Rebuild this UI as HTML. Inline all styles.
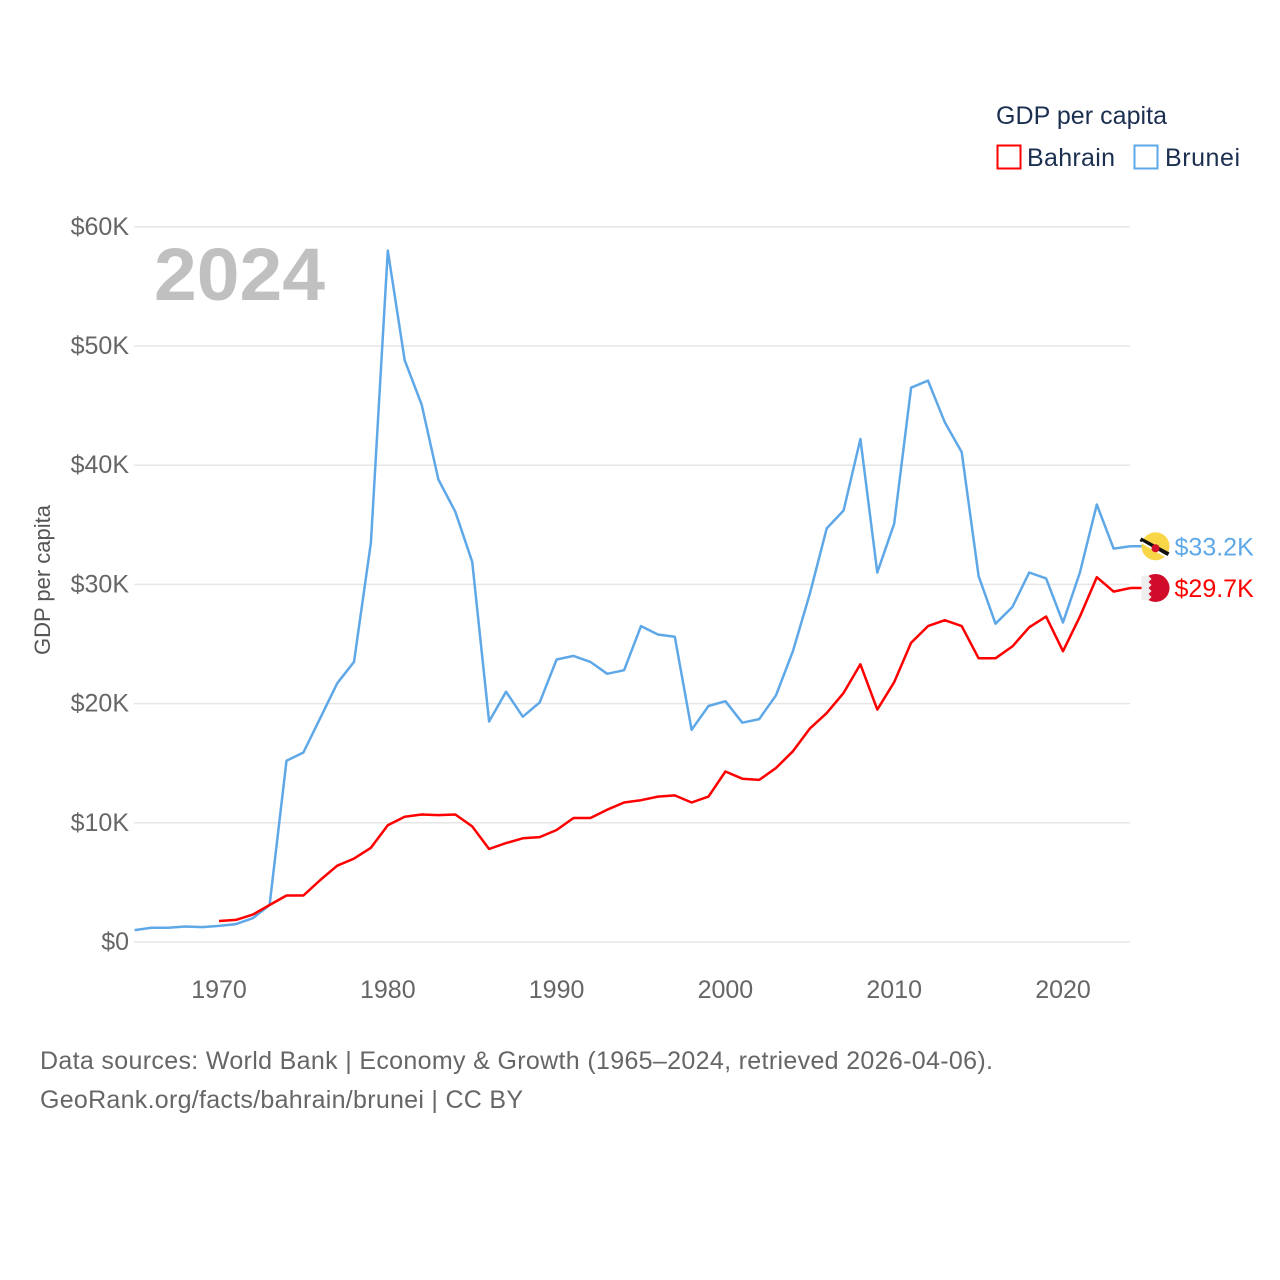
<!DOCTYPE html>
<html><head><meta charset="utf-8"><style>
html,body{margin:0;padding:0;background:#fff;}
svg{display:block;font-family:"Liberation Sans",sans-serif;}
</style></head><body>
<svg id="chart" width="1280" height="1280">
  <g id="grid"></g>
  <text x="154" y="300" font-size="74" font-weight="bold" fill="#c0c0c0" textLength="171" lengthAdjust="spacingAndGlyphs">2024</text>
  <g id="yticks"></g>
  <g id="xticks"></g>
  <text transform="translate(50,580) rotate(-90)" text-anchor="middle" font-size="22" fill="#555">GDP per capita</text>
  <g id="lines"></g>
  <g>
    <text x="996" y="124" font-size="25" fill="#1b2f50" textLength="171">GDP per capita</text>
    <g>
      <rect x="997.5" y="145.5" width="23" height="23" fill="none" stroke="#ff0000" stroke-width="2"/>
      <text x="1027" y="166" font-size="25" fill="#1b2f50" textLength="88">Bahrain</text>
    </g>
    <g>
      <rect x="1134.5" y="145.5" width="23" height="23" fill="none" stroke="#5fa8e8" stroke-width="2"/>
      <text x="1165" y="166" font-size="25" fill="#1b2f50" textLength="75">Brunei</text>
    </g>
  </g>
  <text x="40" y="1069" font-size="25" fill="#666" textLength="953">Data sources: World Bank | Economy &amp; Growth (1965–2024, retrieved 2026-04-06).</text>
  <text x="40" y="1108" font-size="25" fill="#666" textLength="483">GeoRank.org/facts/bahrain/brunei | CC BY</text>
</svg>
<script>
const years = [];
for (let y = 1965; y <= 2024; y++) years.push(y);
const bruneiValues = [1.0,1.2,1.2,1.3,1.25,1.35,1.5,2.0,3.1,15.2,15.9,18.8,21.7,23.5,33.5,58.0,48.8,45.1,38.8,36.1,31.9,18.5,21.0,18.9,20.1,23.7,24.0,23.5,22.5,22.8,26.5,25.8,25.6,17.8,19.8,20.2,18.4,18.7,20.7,24.4,29.2,34.7,36.2,42.2,31.0,35.1,46.5,47.1,43.6,41.1,30.7,26.7,28.1,31.0,30.5,26.8,31.0,36.7,33.0,33.2];
const bahrainYears = [];
for (let y = 1970; y <= 2024; y++) bahrainYears.push(y);
const bahrainValues = [1.76,1.85,2.3,3.1,3.9,3.9,5.2,6.4,7.0,7.9,9.8,10.5,10.7,10.65,10.7,9.7,7.8,8.3,8.7,8.8,9.4,10.4,10.4,11.1,11.7,11.9,12.2,12.3,11.7,12.2,14.3,13.7,13.6,14.6,16.0,17.9,19.2,20.9,23.3,19.5,21.8,25.1,26.5,27.0,26.5,23.8,23.8,24.8,26.4,27.3,24.4,27.3,30.6,29.4,29.7];
const yTickValues = [0,10,20,30,40,50,60];
const yTickLabels = ["$0","$10K","$20K","$30K","$40K","$50K","$60K"];
const xTickValues = [1970,1980,1990,2000,2010,2020];

const NS = "http://www.w3.org/2000/svg";
const xs = y => 219 + (y - 1970) * 16.88;
const ys = v => 942 - v * 11.92;
function mk(tag, attrs, parent) {
  const e = document.createElementNS(NS, tag);
  for (const k in attrs) e.setAttribute(k, attrs[k]);
  parent.appendChild(e);
  return e;
}
const grid = document.getElementById('grid');
const yt = document.getElementById('yticks');
yTickValues.forEach((v, i) => {
  const l = mk('line', {x1:134, x2:1130, y1:ys(v), y2:ys(v), stroke:'#e6e6e6', 'stroke-width':1.5}, grid);
  
  
  const t = mk('text', {x:129, y:ys(v)+8, 'text-anchor':'end', 'font-size':25, fill:'#666'}, yt);
  t.textContent = yTickLabels[i];
  
  
});
const xt = document.getElementById('xticks');
xTickValues.forEach(v => {
  const t = mk('text', {x:xs(v), y:998, 'text-anchor':'middle', 'font-size':25, fill:'#666'}, xt);
  t.textContent = v;
  
  
});
const lines = document.getElementById('lines');
function drawLine(xv, yv, color, name) {
  const pts = xv.map((x, i) => xs(x).toFixed(1) + ',' + ys(yv[i]).toFixed(1)).join(' ');
  const p = mk('polyline', {points:pts, fill:'none', stroke:color, 'stroke-width':2.5, 'stroke-linejoin':'round'}, lines);
  
  
}
drawLine(years, bruneiValues, '#5fa8e8', 'brunei-line');
drawLine(bahrainYears, bahrainValues, '#ff0000', 'bahrain-line');

function endLabel(val, color, name, flag) {
  const x = xs(2024), y = ys(val);
  const g = mk('g', {}, lines);
  
  
  mk('line', {x1:x, x2:x+12, y1:y, y2:y, stroke:color, 'stroke-width':2.5}, g);
  const cx = x + 25;
  if (flag === 'brunei') {
    mk('circle', {cx:cx, cy:y, r:14, fill:'#f8d648'}, g);
    mk('line', {x1:cx-15, y1:y-7, x2:cx+13, y2:y+8, stroke:'#111', 'stroke-width':4}, g);
    mk('line', {x1:cx-14, y1:y-4, x2:cx+12, y2:y+11, stroke:'#fff', 'stroke-width':2}, g);
    mk('circle', {cx:cx, cy:y+2, r:4, fill:'#d0102a'}, g);
  } else {
    mk('circle', {cx:cx, cy:y, r:14, fill:'#d00c2a'}, g);
    mk('path', {d:`M${cx-14},${y-12} L${cx-7},${y-12} L${cx-4},${y-9} L${cx-7},${y-6} L${cx-4},${y-3} L${cx-7},${y} L${cx-4},${y+3} L${cx-7},${y+6} L${cx-4},${y+9} L${cx-7},${y+12} L${cx-14},${y+12} Z`, fill:'#eee'}, g);
  }
  const t = mk('text', {x:x+44, y:y+9, 'font-size':25, fill:color}, g);
  t.textContent = '$' + val.toFixed(1) + 'K';
}
endLabel(bruneiValues[bruneiValues.length-1], '#5fa8e8', 'brunei-end-label', 'brunei');
endLabel(bahrainValues[bahrainValues.length-1], '#ff0000', 'bahrain-end-label', 'bahrain');
</script>
</body></html>
